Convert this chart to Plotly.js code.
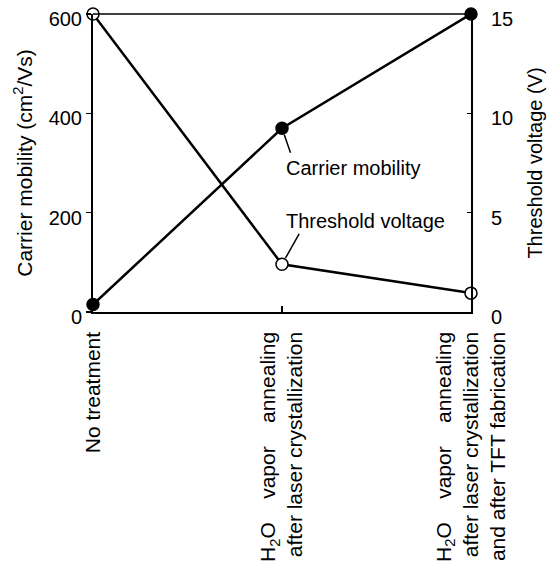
<!DOCTYPE html>
<html>
<head>
<meta charset="utf-8">
<script src="https://cdn.plot.ly/plotly-3.0.1.min.js"></script>
<style>
  html, body { margin: 0; padding: 0; background: #ffffff; }
  #chart { width: 557px; height: 562px; }
</style>
</head>
<body>
<div id="chart"></div>
<script>
// Treatment stages along the x axis
const stagePositions = [0, 1, 2];
const stageLabels = [
  'No treatment',
  'H<sub>2</sub>O\u00a0\u00a0\u00a0\u00a0vapor\u00a0\u00a0\u00a0\u00a0annealing<br>after laser crystallization',
  'H<sub>2</sub>O\u00a0\u00a0\u00a0\u00a0vapor\u00a0\u00a0\u00a0\u00a0annealing<br>after\u00a0laser\u00a0crystallization<br>and after TFT fabrication'
];

// Measured values per stage
const carrierMobility = [15, 370, 600];     // cm^2/Vs, left axis
const thresholdVoltage = [15, 2.4, 0.95];   // V, right axis

// Axis ticks
const mobilityTicks = [0, 200, 400, 600];
const voltageTicks = [0, 5, 10, 15];

const FONT = 'Liberation Sans, Arial, sans-serif';
const NBSP = '\u00a0';

const traces = [
  {
    x: stagePositions,
    y: carrierMobility,
    name: 'Carrier mobility',
    type: 'scatter',
    mode: 'lines+markers',
    yaxis: 'y',
    cliponaxis: false,
    line: { color: '#000000', width: 2.5 },
    marker: { size: 12, color: '#000000', line: { color: '#000000', width: 1.5 } }
  },
  {
    x: stagePositions,
    y: thresholdVoltage,
    name: 'Threshold voltage',
    type: 'scatter',
    mode: 'lines+markers',
    yaxis: 'y2',
    cliponaxis: false,
    line: { color: '#000000', width: 2.5 },
    marker: { size: 12, color: '#ffffff', line: { color: '#000000', width: 1.5 } }
  }
];

const layout = {
  width: 557,
  height: 562,
  margin: { l: 93, r: 86, t: 14, b: 250, pad: 0 },
  paper_bgcolor: '#ffffff',
  plot_bgcolor: '#ffffff',
  showlegend: false,
  font: { family: FONT, size: 20, color: '#000000' },
  xaxis: {
    range: [0, 2],
    tickvals: stagePositions,
    ticktext: stageLabels,
    tickangle: -90,
    tickfont: { size: 21 },
    ticks: 'inside',
    ticklen: 6,
    tickwidth: 1.5,
    tickcolor: '#000000',
    ticklabelstandoff: 10,
    showline: true,
    linecolor: '#000000',
    linewidth: 1.5,
    showgrid: false,
    zeroline: false,
    fixedrange: true
  },
  yaxis: {
    range: [0, 600],
    tickvals: mobilityTicks,
    ticks: 'outside',
    ticklen: 5,
    tickwidth: 1.5,
    tickcolor: '#000000',
    ticklabelshift: 5,
    ticklabelstandoff: 0,
    showline: true,
    linecolor: '#000000',
    linewidth: 2,
    showgrid: false,
    zeroline: false,
    title: {
      // trailing spaces nudge the rotated title slightly lower on the axis
      text: 'Carrier mobility (cm<sup>2</sup>/Vs)' + NBSP.repeat(2),
      font: { size: 21 },
      standoff: 10
    }
  },
  yaxis2: {
    overlaying: 'y',
    side: 'right',
    range: [0, 15],
    tickvals: voltageTicks,
    ticks: 'inside',
    ticklen: 4,
    tickwidth: 1.5,
    tickcolor: '#000000',
    ticklabelshift: 5,
    ticklabelstandoff: 14,
    showline: true,
    linecolor: '#000000',
    linewidth: 2,
    showgrid: false,
    zeroline: false,
    title: {
      text: 'Threshold voltage (V)' + NBSP.repeat(4),
      font: { size: 20 },
      standoff: 16
    }
  },
  shapes: [
    // thin frame line closing the top of the plot
    { type: 'line', xref: 'paper', yref: 'paper', x0: 0, x1: 1, y0: 1, y1: 1,
      line: { color: '#000000', width: 1.5 } }
  ],
  annotations: [
    // leader line and label for the mobility curve
    { x: stagePositions[1], y: carrierMobility[1], xref: 'x', yref: 'y',
      text: '', showarrow: true, arrowhead: 0, arrowwidth: 1.5, arrowcolor: '#000000',
      ax: 9, ay: 26, standoff: 7 },
    { x: stagePositions[1], y: carrierMobility[1], xref: 'x', yref: 'y',
      text: 'Carrier mobility', showarrow: false, xanchor: 'left', yanchor: 'middle',
      xshift: 2, yshift: -40, font: { size: 20 } },
    // leader line and label for the threshold curve
    { x: stagePositions[1], y: thresholdVoltage[1], xref: 'x', yref: 'y2',
      text: '', showarrow: true, arrowhead: 0, arrowwidth: 1.5, arrowcolor: '#000000',
      ax: 18, ay: -32, standoff: 7 },
    { x: stagePositions[1], y: thresholdVoltage[1], xref: 'x', yref: 'y2',
      text: 'Threshold voltage', showarrow: false, xanchor: 'left', yanchor: 'middle',
      xshift: 2, yshift: 43, font: { size: 20 } }
  ]
};

Plotly.newPlot('chart', traces, layout, { staticPlot: true, displayModeBar: false });
</script>
</body>
</html>
